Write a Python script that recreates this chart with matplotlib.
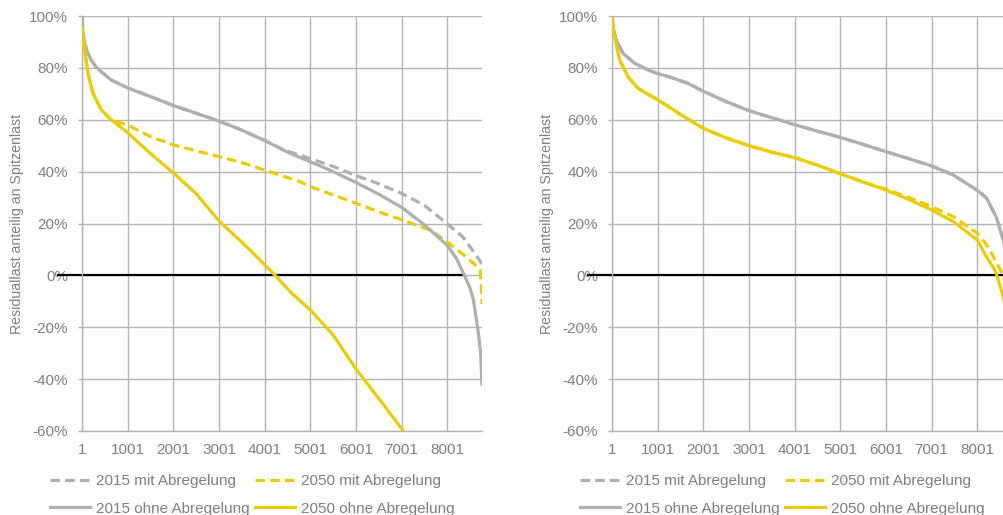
import matplotlib
matplotlib.use("Agg")
import matplotlib.pyplot as plt
from matplotlib.ticker import FixedLocator, FuncFormatter

plt.rcParams['font.family'] = ['Liberation Sans', 'DejaVu Sans']

# ---- data ----
# left panel
l_2015_ohne_h = [1, 20, 58, 120, 204, 300, 424, 643, 1001, 1593, 2001, 2500, 3001, 3500, 4001,
                 4500, 5001, 5500, 6001, 6500, 7001, 7500, 8001, 8200, 8375, 8500, 8573, 8682, 8730, 8760]
l_2015_ohne_v = [100, 94, 89.5, 86, 83, 80.5, 78.5, 75.3, 72.3, 68.3, 65.5, 62.5, 59.5, 56, 52,
                 47.5, 43.8, 40, 35.8, 31.3, 26.2, 19.5, 11.5, 6.5, 0, -5, -9.5, -22.3, -30, -42]
l_2015_mit_h = [1, 20, 58, 120, 204, 300, 424, 643, 1001, 1593, 2001, 2500, 3001, 3500, 4001,
                4400, 5001, 5500, 6001, 6500, 7001, 7500, 8001, 8200, 8355, 8500, 8600, 8720, 8760]
l_2015_mit_v = [100, 94, 89.5, 86, 83, 80.5, 78.5, 75.3, 72.3, 68.3, 65.5, 62.5, 59.5, 56, 52,
                48.5, 45, 42, 38.5, 35.3, 31.6, 27, 19.8, 17, 14.5, 11, 8.5, 5.5, 4]
l_2050_mit_h = [1, 20, 60, 132, 242, 424, 643, 800, 1001, 1500, 2001, 2500, 3001, 3500, 4001,
                4776, 5001, 5500, 6001, 6500, 7001, 7624, 7990, 8355, 8574, 8720, 8745, 8760]
l_2050_mit_v = [95, 91, 86.9, 77.9, 70.2, 63.8, 60, 59, 58, 53.5, 50.3, 48, 45.8, 43.5, 40.6,
                36.1, 34.2, 31, 27.8, 24.5, 21.4, 17.5, 13, 7.9, 4.7, 2, -4, -11]
l_2050_ohne_h = [1, 20, 60, 132, 242, 424, 643, 936, 1001, 1500, 2001, 2500, 3001, 3680, 4229,
                 4600, 5001, 5500, 6018, 6500, 7040]
l_2050_ohne_v = [95, 91, 86.9, 77.9, 70.2, 63.8, 59.9, 56, 55, 47, 39.5, 31.5, 21, 9.8, 0,
                 -7, -13.3, -23, -36.5, -47.5, -60]
l_zero_end = 8375

# right panel
r_2015_h = [1, 30, 95, 241, 497, 789, 1001, 1300, 1666, 2001, 2500, 3001, 3500, 4001, 4500, 5001, 5500,
            6001, 6500, 7001, 7477, 8001, 8194, 8413, 8567, 8650, 8760]
r_2015_ohne_v = [100, 95, 90.7, 85.6, 81.8, 79.2, 77.8, 76.3, 74, 71, 67, 63.5, 60.8, 58.1, 55.6, 53.2, 50.5,
                 47.7, 45, 42.2, 38.7, 32.8, 30, 22.6, 13.6, 7, -5]
r_2015_mit_v = [100, 95, 90.7, 85.6, 81.8, 79.2, 77.8, 76.3, 74, 71, 67, 63.5, 60.8, 58.1, 55.6, 53.2, 50.5,
                47.7, 45, 42.2, 38.7, 32.8, 30, 22.6, 14, 9, 3]
r_2050_h = [1, 20, 60, 169, 350, 570, 1001, 1300, 1500, 2001, 2500, 3001, 3500, 4001, 4500, 5001,
            5500, 6001, 6500, 7001, 7477, 8001, 8196, 8354, 8415, 8546, 8650, 8760]
r_2050_ohne_v = [99, 96, 92, 83, 76.6, 72.1, 67.7, 64.4, 62, 56.7, 53, 50, 47.5, 45.4, 42.5, 39.2,
                 36, 32.9, 29.3, 25.2, 20.7, 13.6, 7.2, 3, 0.7, -6.9, -14, -25]
r_2050_mit_v = [99, 96, 92, 83, 76.6, 72.1, 67.7, 64.4, 62, 56.7, 53, 50, 47.5, 45.4, 42.5, 39.2,
                36, 33.2, 30, 26.5, 22.6, 16.2, 12, 7.2, 5, 0.8, -6, -15]
r_zero_end = 8760

x_ticks = [1, 1001, 2001, 3001, 4001, 5001, 6001, 7001, 8001]
y_ticks = [-60, -40, -20, 0, 20, 40, 60, 80, 100]

# ---- styles ----
GRAY = '#b0b0b0'
YELLOW = '#edcd00'
GRID = '#b5b5b5'
TXT = '#7f7f7f'
LW = 2.3
DASH = (3.0, 1.6)

W, H = 1004, 515
fig = plt.figure(figsize=(W / 100, H / 100), dpi=100)


def make_axes(x0, series, zero_end):
    ax = fig.add_axes([x0 / W, (H - 431) / H, 400 / W, 415 / H])
    ax.set_xlim(1, 8760)
    ax.set_ylim(-60, 100)
    ax.xaxis.set_major_locator(FixedLocator(x_ticks))
    ax.yaxis.set_major_locator(FixedLocator(y_ticks))
    ax.yaxis.set_major_formatter(FuncFormatter(lambda v, p: f"{v:.0f}%"))
    ax.grid(True, color=GRID, lw=1)
    ax.set_axisbelow(True)
    for s in ['top', 'right']:
        ax.spines[s].set_visible(False)
    for s in ['left', 'bottom']:
        ax.spines[s].set_color(GRID)
        ax.spines[s].set_linewidth(1)
    ax.tick_params(axis='x', length=0, pad=9, labelsize=11, labelcolor=TXT)
    ax.tick_params(axis='y', length=3, width=1, color=GRID, pad=7, labelsize=11, labelcolor=TXT)
    ax.set_ylabel("Residuallast anteilig an Spitzenlast", fontsize=10.2, color=TXT)
    ax.yaxis.set_label_coords(-58 / 400, 0.5)

    # black zero line, starts left of the axis like in the original
    ax.hlines(0, -547, zero_end, color='black', lw=1.6, zorder=2, clip_on=False)

    handles = []
    for (h, v, col, dashed, lab) in series:
        ls = (0, DASH) if dashed else '-'
        ln, = ax.plot(h, v, color=col, lw=LW, ls=ls, label=lab, zorder=3)
        handles.append(ln)
    return ax, handles


left_series = [
    (l_2015_mit_h, l_2015_mit_v, GRAY, True, "2015 mit Abregelung"),
    (l_2050_mit_h, l_2050_mit_v, YELLOW, True, "2050 mit Abregelung"),
    (l_2015_ohne_h, l_2015_ohne_v, GRAY, False, "2015 ohne Abregelung"),
    (l_2050_ohne_h, l_2050_ohne_v, YELLOW, False, "2050 ohne Abregelung"),
]
right_series = [
    (r_2015_h, r_2015_mit_v, GRAY, True, "2015 mit Abregelung"),
    (r_2050_h, r_2050_mit_v, YELLOW, True, "2050 mit Abregelung"),
    (r_2015_h, r_2015_ohne_v, GRAY, False, "2015 ohne Abregelung"),
    (r_2050_h, r_2050_ohne_v, YELLOW, False, "2050 ohne Abregelung"),
]

for x0, series, zend, lx in [(82, left_series, l_zero_end, 50), (612, right_series, r_zero_end, 580)]:
    ax, hs = make_axes(x0, series, zend)
    # legend fills column-wise -> reorder for 2 rows x 2 cols
    order = [hs[0], hs[2], hs[1], hs[3]]
    fig.legend(order, [h.get_label() for h in order], ncol=2, frameon=False,
               loc='upper left', bbox_to_anchor=(lx / W, 1 - 474 / H),
               borderaxespad=0, borderpad=0, fontsize=11, labelcolor=TXT,
               handlelength=2.6, handletextpad=0.4, columnspacing=0.35, labelspacing=0.9)

fig.savefig("out.png", dpi=100)
